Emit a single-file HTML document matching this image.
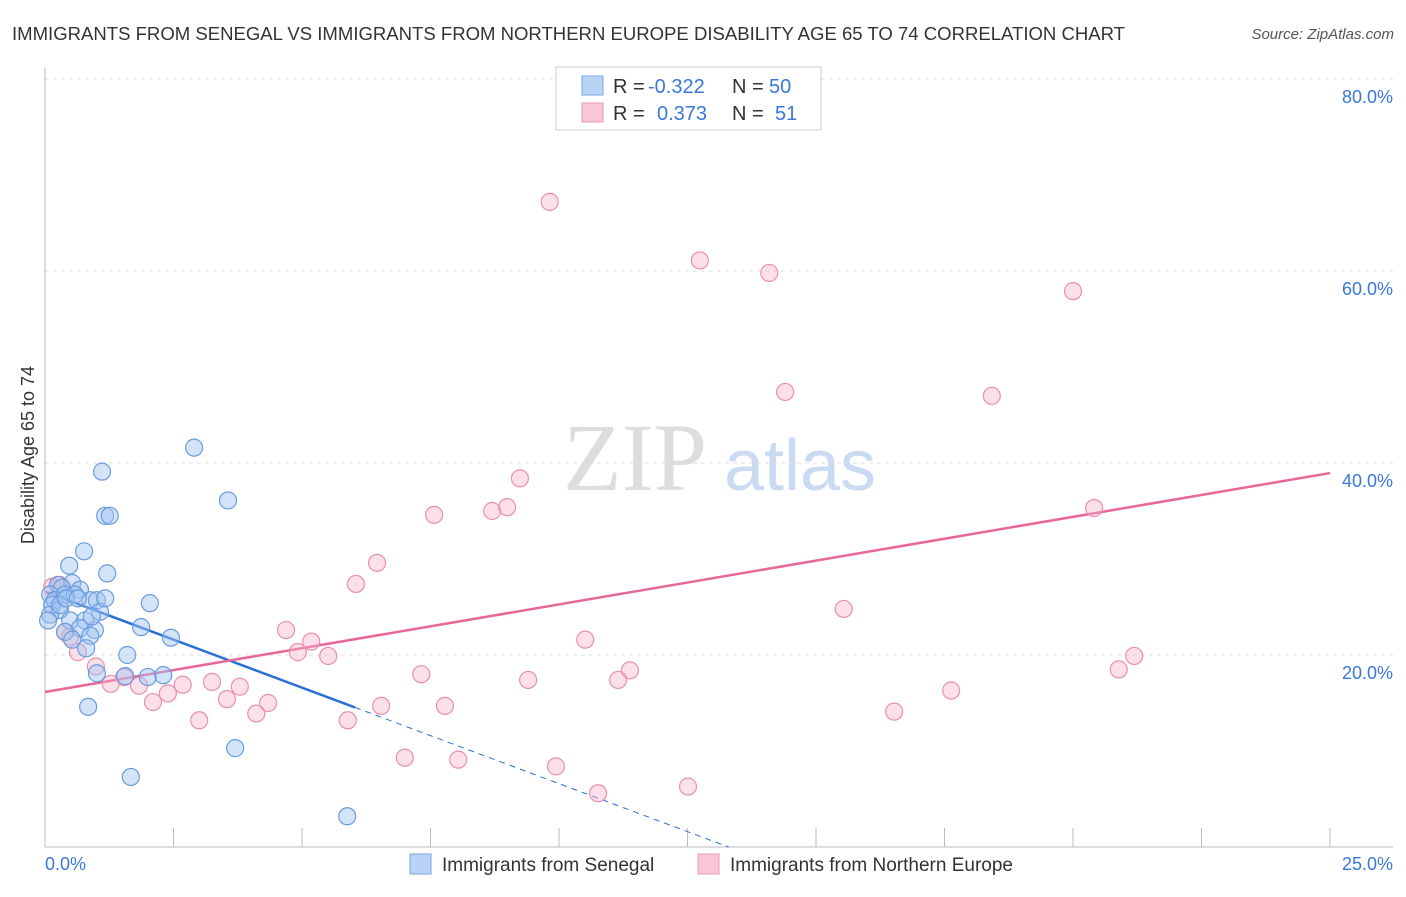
<!DOCTYPE html>
<html><head><meta charset="utf-8"><style>
body{margin:0;background:#fff;font-family:"Liberation Sans",sans-serif;}
svg text{font-family:"Liberation Sans",sans-serif;}
</style></head><body>
<svg id="chart" width="1406" height="892">
<text x="12" y="40" font-size="18" fill="#333" textLength="1113" lengthAdjust="spacingAndGlyphs">IMMIGRANTS FROM SENEGAL VS IMMIGRANTS FROM NORTHERN EUROPE DISABILITY AGE 65 TO 74 CORRELATION CHART</text>
<text x="1394" y="39" font-size="15" fill="#555" font-style="italic" text-anchor="end">Source: ZipAtlas.com</text>
<text x="34" y="455" font-size="18" fill="#333" text-anchor="middle" transform="rotate(-90 34 455)">Disability Age 65 to 74</text>
<g><text x="635" y="490" font-size="96" fill="#ddd" text-anchor="middle" style="font-family:'Liberation Serif',serif">ZIP</text><text x="800" y="490" font-size="72" fill="#c9daf2" text-anchor="middle">atlas</text></g>
<g id="grid"></g><g id="axes"></g><g id="lines"></g><g id="pts"></g>
<g>
<rect x="556" y="67" width="265" height="63" fill="#fff" stroke="#ccc"/>
<rect x="582" y="76" width="21" height="19" fill="#b9d3f5" stroke="#7aa6e6"/>
<rect x="582" y="103" width="21" height="19" fill="#f9c6d6" stroke="#eb9ab5"/>
<text x="613" y="93" font-size="20" fill="#333">R =</text>
<text x="648" y="93" font-size="20" fill="#3a78d8">-0.322</text>
<text x="732" y="93" font-size="20" fill="#333">N =</text>
<text x="769" y="93" font-size="20" fill="#3a78d8">50</text>
<text x="613" y="120" font-size="20" fill="#333">R =</text>
<text x="657" y="120" font-size="20" fill="#3a78d8">0.373</text>
<text x="732" y="120" font-size="20" fill="#333">N =</text>
<text x="775" y="120" font-size="20" fill="#3a78d8">51</text>
</g>
<g>
<rect x="410" y="854" width="21" height="20" fill="#b9d3f5" stroke="#7aa6e6"/>
<text x="442" y="871" font-size="19" fill="#333">Immigrants from Senegal</text>
<rect x="698" y="854" width="21" height="20" fill="#f9c6d6" stroke="#eb9ab5"/>
<text x="730" y="871" font-size="19" fill="#333">Immigrants from Northern Europe</text>
</g>
<text x="45" y="870" font-size="18" fill="#3a78d8">0.0%</text>
<text x="1393" y="870" font-size="18" fill="#3a78d8" text-anchor="end">25.0%</text>
</svg>
<script>
const blueX=[2.90,1.11,3.56,1.17,1.26,0.76,0.47,1.21,0.25,0.53,0.68,0.33,0.10,0.19,0.39,0.58,0.88,1.01,2.04,0.14,0.29,0.10,0.49,0.78,0.06,1.87,0.97,0.68,0.39,0.88,0.53,2.45,0.80,1.60,1.01,1.56,2.00,2.30,0.84,3.70,1.67,5.88,0.29,0.41,0.64,1.07,1.17,0.91];
const blueY=[41.6,39.1,36.1,34.5,34.5,30.8,29.3,28.5,27.3,27.5,26.8,27.0,26.3,25.7,26.3,26.3,25.7,25.7,25.4,25.2,24.7,24.2,23.6,23.6,23.6,22.9,22.6,22.8,22.4,22.0,21.6,21.8,20.7,20.0,18.1,17.8,17.7,17.9,14.6,10.3,7.3,3.2,25.2,25.9,25.9,24.5,25.9,24.0];
const pinkX=[9.82,12.74,14.09,20.0,14.40,18.42,9.24,7.57,8.70,8.99,20.41,6.46,6.05,15.54,4.69,10.51,5.18,4.92,5.51,21.19,20.89,7.32,11.38,11.15,9.40,0.99,1.54,1.28,3.25,2.68,3.79,1.83,2.39,2.10,4.34,3.54,4.11,3.00,5.89,6.54,7.78,16.52,17.63,7.00,8.04,9.94,10.76,12.51,0.14,0.29,0.39,0.64,0.49];
const pinkY=[67.2,61.1,59.8,57.9,47.4,47.0,38.4,34.6,35.0,35.4,35.3,29.6,27.4,24.8,22.6,21.6,21.4,20.3,19.9,19.9,18.5,18.0,18.4,17.4,17.4,18.8,17.7,17.0,17.2,16.9,16.7,16.8,16.0,15.1,15.0,15.4,13.9,13.2,13.2,14.7,14.7,14.1,16.3,9.3,9.1,8.4,5.6,6.3,27.1,27.3,22.4,20.3,21.9];
const yTicks=[20,40,60,80];
const blueLine=[26.6,-2.0];
const pinkLine=[16.15,0.912];
const NS='http://www.w3.org/2000/svg';
const sx=v=>45+v*51.4, sy=v=>847-v*9.6;
function mk(t,a,p){const e=document.createElementNS(NS,t);for(const k in a)e.setAttribute(k,a[k]);document.getElementById(p).appendChild(e);return e;}
yTicks.forEach(t=>{
 const l=mk('line',{x1:45,x2:1393,y1:sy(t),y2:sy(t),stroke:'#ddd','stroke-dasharray':'4,4'},'grid');
 
 
 const tx=mk('text',{x:1393,y:sy(t)+24,'font-size':18,fill:'#3a78d8','text-anchor':'end'},'grid');
 tx.textContent=t.toFixed(1)+'%';
 
 
});
mk('line',{x1:45,x2:45,y1:68,y2:847,stroke:'#bbb'},'axes');
mk('line',{x1:45,x2:1393,y1:847,y2:847,stroke:'#bbb'},'axes');
for(let i=0;i<=10;i++){mk('line',{x1:sx(i*2.5),x2:sx(i*2.5),y1:828,y2:847,stroke:'#bbb'},'axes');}
const bEnd=6.03;
let l1=mk('line',{x1:sx(0),y1:sy(blueLine[0]),x2:sx(bEnd),y2:sy(blueLine[0]+blueLine[1]*bEnd),stroke:'#2a6fd6','stroke-width':2.5},'lines');


let xz=-blueLine[0]/blueLine[1];
let l2=mk('line',{x1:sx(bEnd),y1:sy(blueLine[0]+blueLine[1]*bEnd),x2:sx(xz),y2:sy(0),stroke:'#2a6fd6','stroke-width':1,'stroke-dasharray':'6,5'},'lines');


let l3=mk('line',{x1:sx(0),y1:sy(pinkLine[0]),x2:sx(25),y2:sy(pinkLine[0]+pinkLine[1]*25),stroke:'#e8679a','stroke-width':2.5},'lines');


pinkX.forEach((x,i)=>{const c=mk('circle',{cx:sx(x),cy:sy(pinkY[i]),r:8.5,fill:'rgba(246,178,200,0.4)',stroke:'#eb8fae','stroke-width':1.2},'pts');
 
 });
blueX.forEach((x,i)=>{const c=mk('circle',{cx:sx(x),cy:sy(blueY[i]),r:8.5,fill:'rgba(160,196,240,0.45)',stroke:'#6a9be0','stroke-width':1.2},'pts');
 
 });
</script>
</body></html>
